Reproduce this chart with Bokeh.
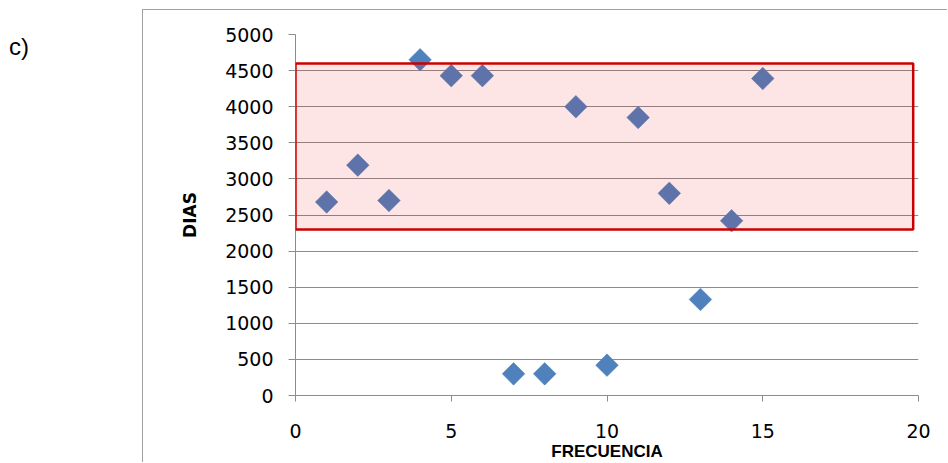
import math
from bokeh.plotting import figure
from bokeh.models import BoxAnnotation, Range1d, FixedTicker, Div
from bokeh.layouts import row
from bokeh.embed import file_html
from bokeh.resources import INLINE

# data
frecuencia = [1, 2, 3, 4, 5, 6, 7, 8, 9, 10, 11, 12, 13, 14, 15]
dias = [2680, 3190, 2700, 4650, 4430, 4430, 300, 300, 4000, 420, 3850, 2800, 1330, 2420, 4390]
x_ticks = [0, 5, 10, 15, 20]
y_ticks = [0, 500, 1000, 1500, 2000, 2500, 3000, 3500, 4000, 4500, 5000]
panel_label = "c)"
x_title = "FRECUENCIA"
y_title = "DIAS"
# highlighted region (data units)
box_x = [0, 19.83]
box_y = [2300, 4600]

p = figure(width=805, height=453, output_backend="svg", toolbar_location=None,
           x_range=Range1d(0, 20), y_range=Range1d(0, 5000),
           min_border_left=152, min_border_right=30, min_border_top=24,
           min_border_bottom=67, margin=(9, 0, 0, 0),
           styles={"border-top": "1px solid #a0a0a0", "border-left": "1px solid #a0a0a0"})
p.outline_line_color = None
p.background_fill_color = "white"
p.border_fill_color = "white"

p.xgrid.visible = False
p.ygrid.ticker = FixedTicker(ticks=y_ticks)
p.ygrid.grid_line_color = "#8c8c8c"
p.ygrid.grid_line_width = 1

grey = "#8c8c8c"
p.xaxis.ticker = FixedTicker(ticks=x_ticks)
p.yaxis.ticker = FixedTicker(ticks=y_ticks)
for ax in (p.xaxis, p.yaxis):
    ax.axis_line_color = grey
    ax.major_tick_line_color = grey
    ax.major_tick_in = 0
    ax.minor_tick_line_color = None
    ax.major_label_text_font = "DejaVu Sans"
    ax.major_label_text_font_size = "19px"
    ax.major_label_text_color = "black"
p.xaxis.major_tick_out = 6
p.yaxis.major_tick_out = 7
p.xaxis.major_label_standoff = 22
p.yaxis.major_label_standoff = 15

p.xaxis.axis_label = x_title
p.xaxis.axis_label_text_font = "Liberation Sans"
p.xaxis.axis_label_text_font_style = "bold"
p.xaxis.axis_label_text_font_size = "17px"
p.xaxis.axis_label_standoff = 1
p.xaxis.axis_label_text_color = "black"

p.yaxis.axis_label = y_title
p.yaxis.axis_label_text_font = "DejaVu Sans"
p.yaxis.axis_label_text_font_style = "bold"
p.yaxis.axis_label_text_font_size = "17px"
p.yaxis.axis_label_standoff = 22
p.yaxis.axis_label_text_color = "black"

p.scatter(frecuencia, dias, marker="square", size=16, angle=math.pi / 4,
          fill_color="#4F81BD", line_color="#4F81BD", line_width=0.5)

# translucent highlight box, drawn above the points
p.add_layout(BoxAnnotation(left=box_x[0], right=box_x[1], bottom=box_y[0], top=box_y[1],
                           fill_color="#f00000", fill_alpha=0.1,
                           line_color="#cc0000", line_width=2.5, line_alpha=1))

label_div = Div(text=('<div style="position:absolute; left:9px; top:30px; '
                      'font-family:\'Liberation Sans\'; font-size:24px; color:black;">'
                      + panel_label + '</div>'),
                width=142, height=463, margin=(0, 0, 0, 0))

layout = row(label_div, p, margin=(0, 0, 0, 0))
open("out.html", "w").write(file_html(layout, INLINE))
